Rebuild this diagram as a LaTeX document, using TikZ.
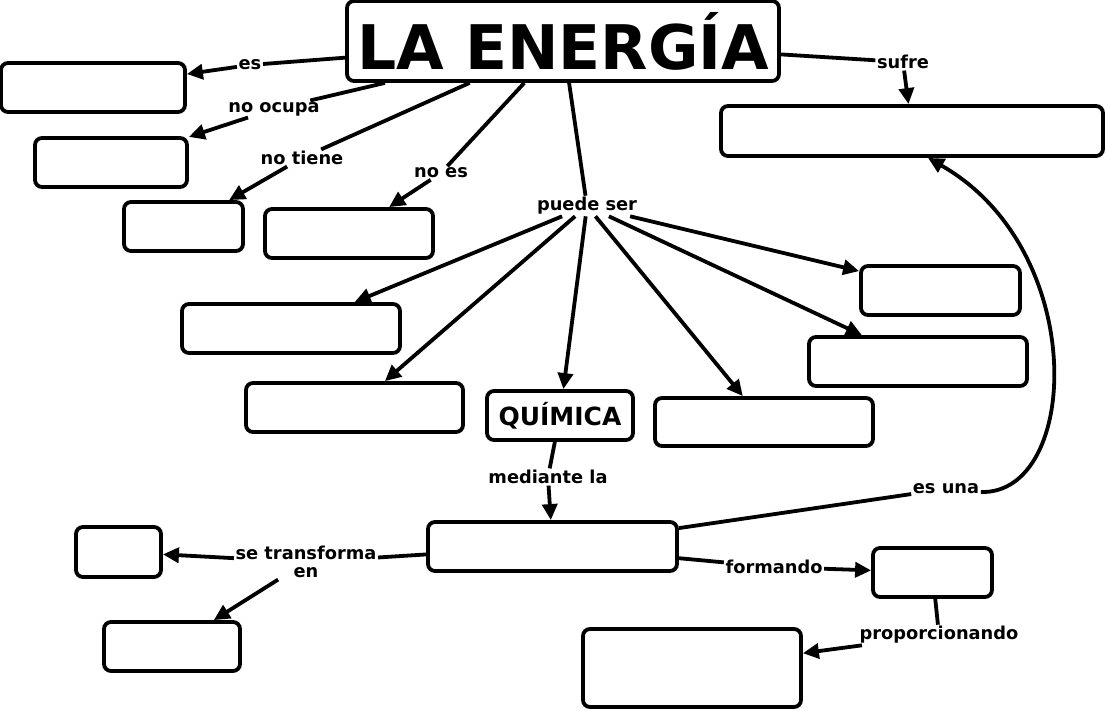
\documentclass[tikz,border=0pt]{standalone}
\usepackage{fontspec}
\setmainfont{DejaVu Sans}
\usetikzlibrary{arrows.meta}
\begin{document}
\begin{tikzpicture}[x=1pt,y=-1pt,
 box/.style={draw, line width=3.8pt, rounded corners=7pt, fill=white, inner sep=0pt},
 lab/.style={font=\fontsize{17.8}{18}\selectfont\bfseries, inner sep=1.5pt, align=center},
 conn/.style={line width=3.8pt},
 arr/.style={line width=3.8pt, -{Triangle[length=16pt,width=15pt]}}]
\fill[white] (0,0) rectangle (1106,711);
\useasboundingbox (0,0) rectangle (1106,711);
% boxes
\node[box, minimum width=432pt, minimum height=80pt, font=\fontsize{61.5}{61}\selectfont\bfseries] (title) at (563,41) {LA ENERGÍA};
\node[box, minimum width=184pt, minimum height=49pt] (b1) at (93,87.5) {};
\node[box, minimum width=152pt, minimum height=49pt] (b2) at (111,162.5) {};
\node[box, minimum width=119pt, minimum height=49pt] (b3) at (183.5,226.5) {};
\node[box, minimum width=168pt, minimum height=49pt] (b4) at (349,233.5) {};
\node[box, minimum width=382pt, minimum height=50pt] (b5) at (912,131) {};
\node[box, minimum width=218pt, minimum height=49pt] (b6) at (291,328.5) {};
\node[box, minimum width=217pt, minimum height=49pt] (b7) at (354.5,407.5) {};
\node[box, minimum width=146pt, minimum height=49pt, font=\fontsize{25}{25}\selectfont\bfseries] (quim) at (560,415.5) {QUÍMICA};
\node[box, minimum width=218pt, minimum height=48pt] (b8) at (764,422) {};
\node[box, minimum width=159pt, minimum height=49pt] (b9) at (940.5,290.5) {};
\node[box, minimum width=218pt, minimum height=49pt] (b10) at (918,361.5) {};
\node[box, minimum width=249pt, minimum height=49pt] (b11) at (552.5,546.5) {};
\node[box, minimum width=85pt, minimum height=50pt] (b12) at (118.5,552) {};
\node[box, minimum width=136pt, minimum height=49pt] (b13) at (172,646.5) {};
\node[box, minimum width=119pt, minimum height=49pt] (b14) at (932.5,572.5) {};
\node[box, minimum width=218pt, minimum height=78pt] (b15) at (692,668) {};
% labels
\node[lab] (les) at (250,65) {es};
\node[lab] (locupa) at (274,109) {no ocupa};
\node[lab] (ltiene) at (302,158) {no tiene};
\node[lab] (lnoes) at (441,173) {no es};
\node[lab] (lpuede) at (587,206) {puede ser};
\node[lab] (lsufre) at (903,62) {sufre};
\node[lab] (lmed) at (548,477) {mediante la};
\node[lab] (lesuna) at (946,489) {es una};
\node[lab] (ltrans) at (306,562) {se transforma\\en};
\node[lab] (lform) at (774,567) {formando};
\node[lab] (lprop) at (939,635) {proporcionando};
% connectors
\draw[conn] (title) -- (les);
\draw[arr] (les) -- (b1);
\draw[conn] (title) -- (locupa);
\draw[arr] (locupa) -- (b2);
\draw[conn] (title) -- (ltiene);
\draw[arr] (ltiene) -- (b3);
\draw[conn] (title) -- (lnoes);
\draw[arr] (lnoes) -- (b4);
\draw[conn] (title) -- (lpuede);
\draw[conn] (title) -- (lsufre);
\draw[arr] (lsufre) -- (b5);
\draw[arr] (lpuede) -- (b6);
\draw[arr] (lpuede) -- (b7);
\draw[arr] (lpuede) -- (quim);
\draw[arr] (lpuede) -- (b8);
\draw[arr] (lpuede) -- (b9);
\draw[arr] (lpuede) -- (b10);
\draw[conn] (quim) -- (lmed);
\draw[arr] (lmed) -- (b11);
\draw[conn] (b11) -- (lesuna);
\draw[arr] ([yshift=-3pt]lesuna.east) .. controls (1080,495) and (1090,250) .. ([xshift=16pt]b5.south);
\draw[conn] (b11) -- (ltrans);
\draw[arr] (ltrans) -- (b12);
\draw[arr] (ltrans) -- (b13);
\draw[conn] (b11) -- (lform);
\draw[arr] (lform) -- (b14);
\draw[conn] (b14) -- (lprop);
\draw[arr] (lprop) -- (b15);
\end{tikzpicture}
\end{document}
